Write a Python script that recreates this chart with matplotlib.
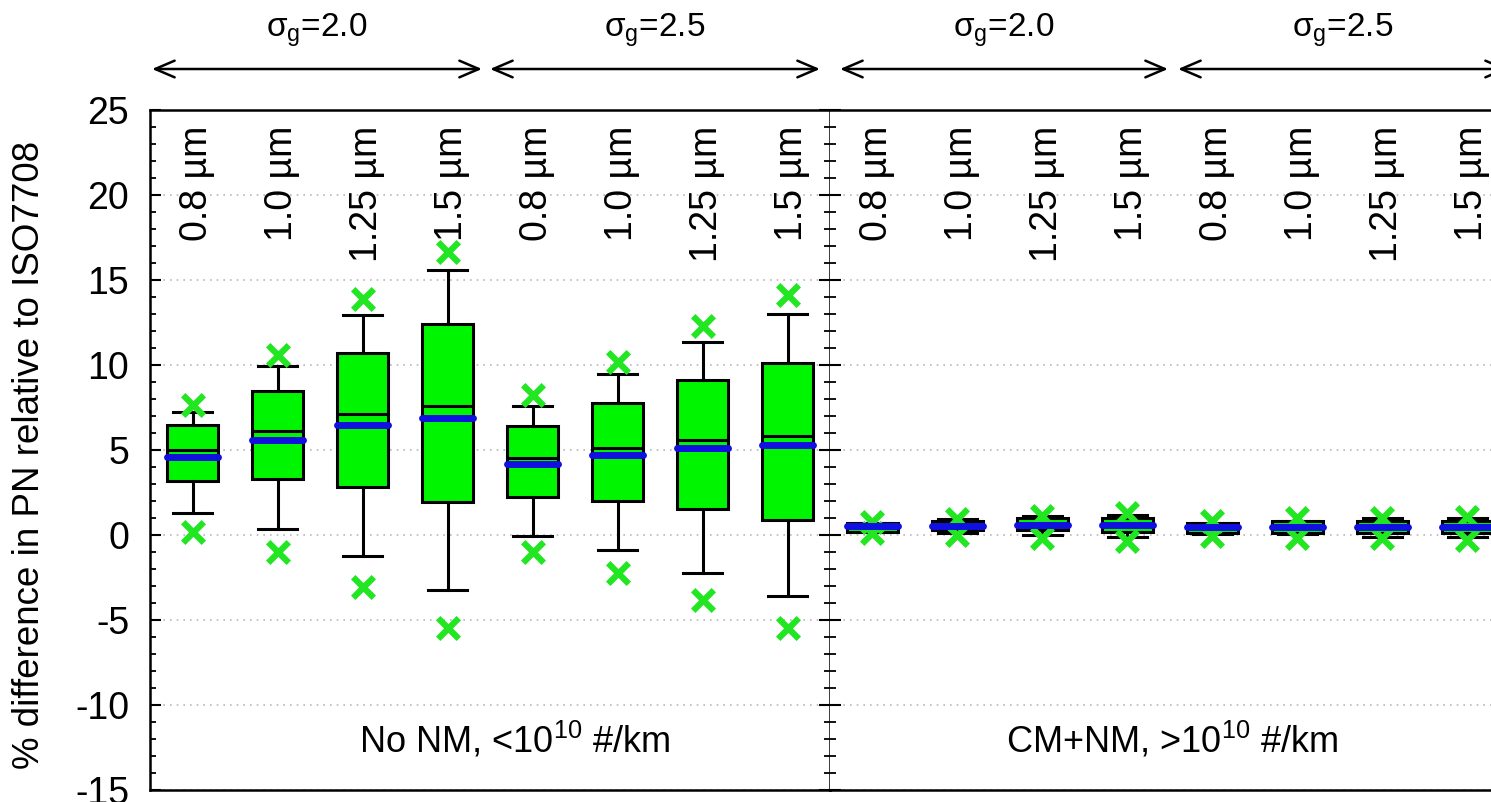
import numpy as np
import matplotlib
matplotlib.use("Agg")
import matplotlib.pyplot as plt
from matplotlib.patches import FancyArrowPatch
from matplotlib.ticker import MultipleLocator

plt.rcParams['font.family'] = ['Liberation Sans', 'DejaVu Sans']
plt.rcParams['mathtext.fontset'] = 'custom'
plt.rcParams['mathtext.rm'] = 'Liberation Sans'
plt.rcParams['mathtext.default'] = 'regular'
plt.rcParams['axes.unicode_minus'] = False

# size labels (same for both panels, 2 x sigma_g groups)
size_labels = ['0.8 µm', '1.0 µm', '1.25 µm', '1.5 µm'] * 2
sigma_labels = ['σ$_g$=2.0', 'σ$_g$=2.5', 'σ$_g$=2.0', 'σ$_g$=2.5']
panel_labels = ['No NM, <10$^{10}$ #/km', 'CM+NM, >10$^{10}$ #/km']

# left panel: No NM
nonm_q1 = [3.18, 3.27, 2.84, 1.96, 2.25, 2.02, 1.51, 0.88]
nonm_q3 = [6.47, 8.49, 10.69, 12.41, 6.43, 7.75, 9.12, 10.14]
nonm_med = [5.0, 6.14, 7.12, 7.59, 4.51, 5.1, 5.59, 5.84]
nonm_mean = [4.59, 5.59, 6.47, 6.88, 4.16, 4.71, 5.1, 5.29]
nonm_wlo = [1.27, 0.37, -1.24, -3.24, -0.06, -0.88, -2.22, -3.57]
nonm_whi = [7.25, 9.92, 12.94, 15.59, 7.61, 9.45, 11.37, 12.98]
nonm_max = [7.65, 10.6, 13.86, 16.67, 8.24, 10.2, 12.29, 14.12]
nonm_min = [0.2, -0.98, -3.04, -5.49, -0.98, -2.25, -3.82, -5.49]

# right panel: CM+NM
cmnm_q1 = [0.2, 0.29, 0.29, 0.16, 0.1, 0.1, 0.1, 0.1]
cmnm_q3 = [0.72, 0.84, 0.98, 0.98, 0.72, 0.84, 0.8, 0.84]
cmnm_med = [0.5, 0.6, 0.62, 0.65, 0.48, 0.52, 0.52, 0.55]
cmnm_mean = [0.53, 0.53, 0.59, 0.59, 0.45, 0.49, 0.49, 0.45]
cmnm_wlo = [0.16, 0.14, 0.0, -0.1, 0.06, 0.04, -0.1, -0.14]
cmnm_whi = [0.72, 0.92, 1.12, 1.18, 0.72, 0.84, 0.98, 0.98]
cmnm_max = [0.78, 0.94, 1.14, 1.27, 0.82, 0.98, 1.02, 1.08]
cmnm_min = [0.1, 0.0, -0.2, -0.33, -0.04, -0.16, -0.2, -0.29]

BOX_GREEN = '#00f500'
X_GREEN = '#22e622'
MEAN_BLUE = '#1010e0'

W, H = 1491, 802
fig = plt.figure(figsize=(W / 100, H / 100), dpi=100)

ax_l = fig.add_axes([150 / W, 12 / H, 680 / W, 680 / H])
ax_r = fig.add_axes([830 / W, 12 / H, 680 / W, 680 / H])


def draw_panel(ax, q1, q3, med, mean, wlo, whi, xmax, xmin, label, label_x):
    pos = np.arange(1, 9)
    stats = [dict(med=m, q1=a, q3=b, whislo=lo, whishi=hi, fliers=[])
             for m, a, b, lo, hi in zip(med, q1, q3, wlo, whi)]
    lw = 2.2
    ax.bxp(stats, positions=pos, widths=0.61, capwidths=0.47,
           showfliers=False, patch_artist=True, manage_ticks=False,
           boxprops=dict(facecolor=BOX_GREEN, edgecolor='black', linewidth=lw),
           whiskerprops=dict(color='black', linewidth=lw),
           capprops=dict(color='black', linewidth=lw),
           medianprops=dict(color='black', linewidth=lw), zorder=3)
    ax.scatter(pos, xmax, marker='x', s=220, color=X_GREEN, linewidths=4.5, zorder=4)
    ax.scatter(pos, xmin, marker='x', s=220, color=X_GREEN, linewidths=4.5, zorder=4)
    ml = ax.hlines(mean, pos - 0.3, pos + 0.3, color=MEAN_BLUE,
                   linewidth=5, zorder=5)
    ml.set_capstyle('round')

    for p, t in zip(pos, size_labels):
        ax.text(p + 0.05, 24.1, t, rotation=90, ha='center', va='top', fontsize=27)
    ax.text(label_x, -12.1, label, ha='center', va='center', fontsize=26)

    ax.set_xlim(0.5, 8.5)
    ax.set_ylim(-15, 25)
    ax.yaxis.set_major_locator(MultipleLocator(5))
    ax.yaxis.set_minor_locator(MultipleLocator(1))
    ax.set_xticks([])
    ax.grid(True, axis='y', which='major', color='#b8b8b8', linestyle=(0, (1, 3)), linewidth=1.2)
    ax.set_axisbelow(True)
    for s in ax.spines.values():
        s.set_linewidth(1.8)
    ax.tick_params(axis='y', which='major', direction='in', length=8, width=1.5)
    ax.tick_params(axis='y', which='minor', direction='in', length=4.5, width=1.3)


draw_panel(ax_l, nonm_q1, nonm_q3, nonm_med, nonm_mean, nonm_wlo, nonm_whi,
           nonm_max, nonm_min, panel_labels[0], 4.79)
draw_panel(ax_r, cmnm_q1, cmnm_q3, cmnm_med, cmnm_mean, cmnm_wlo, cmnm_whi,
           cmnm_max, cmnm_min, panel_labels[1], 4.52)

ax_l.tick_params(axis='y', which='both', left=True, right=True, labelsize=27, pad=15)
ax_r.tick_params(axis='y', which='both', left=True, right=False, labelleft=False)
ax_r.spines['left'].set_visible(False)

ax_l.set_yticks(np.arange(-15, 26, 5))
ax_l.set_yticklabels([str(v) for v in range(-15, 26, 5)])

fig.text(30 / W, 1 - 455 / H, '% difference in PN relative to ISO7708',
         rotation=90, ha='center', va='center', fontsize=26.5)

# sigma_g group arrows along the top
arrow_spans = [(152, 482), (490, 820), (840, 1168), (1178, 1508)]
for (x0, x1), lab in zip(arrow_spans, sigma_labels):
    y = 1 - 69 / H
    arr = FancyArrowPatch((x0 / W, y), (x1 / W, y), transform=fig.transFigure,
                          arrowstyle='<->,head_length=0.7,head_width=0.3',
                          mutation_scale=20, color='black', linewidth=1.8,
                          shrinkA=0, shrinkB=0)
    fig.add_artist(arr)
    fig.text((x0 + x1) / 2 / W, 1 - 30 / H, lab, ha='center', va='center', fontsize=24)

fig.savefig('out.png', dpi=100)
